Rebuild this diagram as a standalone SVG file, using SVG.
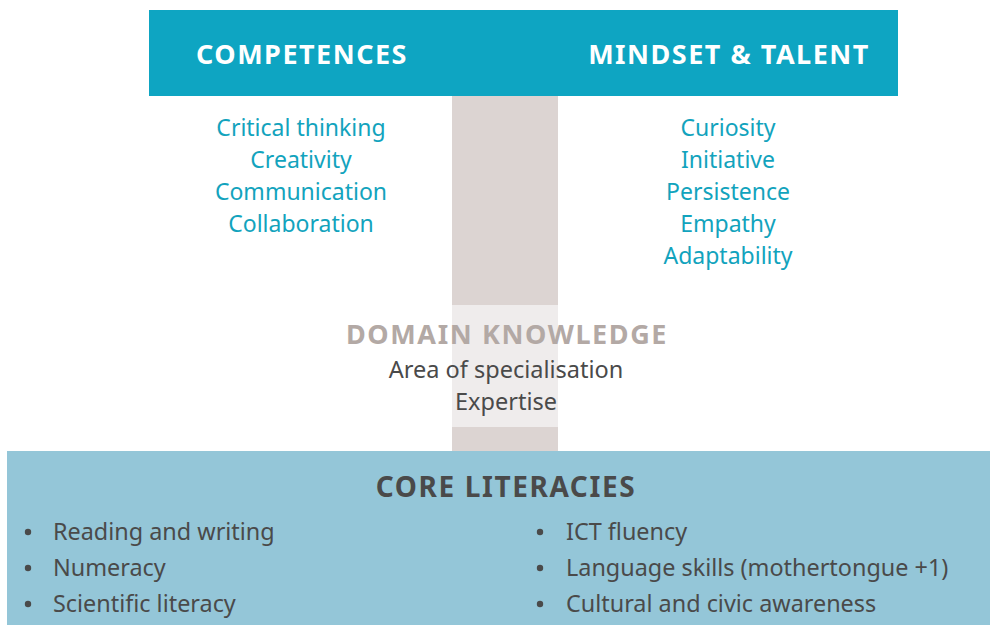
<svg xmlns="http://www.w3.org/2000/svg" width="990" height="625" viewBox="0 0 990 625">
<style>
text{font-family:"Noto Sans","Open Sans",sans-serif;}
.hd{font-size:27px;font-weight:bold;fill:#ffffff;text-anchor:middle;letter-spacing:1.5px;}
.tl{font-size:23px;fill:#12a3bd;text-anchor:middle;}
.dk{font-size:23.5px;fill:#4a4a4a;text-anchor:middle;}
.bl{font-size:23.4px;fill:#4a4a4a;}
.bt{fill:#4a4a4a;}
</style>
<rect width="990" height="625" fill="#ffffff"/>
<g id="pillar">
<rect x="452" y="96" width="106" height="355" fill="#dcd4d2"/>
<rect x="452" y="305" width="106" height="122" fill="#efecec"/>
</g>
<g id="top-bar">
<rect x="149" y="10" width="749" height="86" fill="#0ea5c2"/>
<text class="hd" x="302" y="64">COMPETENCES</text>
<text class="hd" x="729" y="64">MINDSET &amp; TALENT</text>
</g>
<g id="competences">
<text class="tl" x="301" y="136">Critical thinking</text>
<text class="tl" x="301" y="168">Creativity</text>
<text class="tl" x="301" y="200">Communication</text>
<text class="tl" x="301" y="232">Collaboration</text>
</g>
<g id="mindset">
<text class="tl" x="728" y="136">Curiosity</text>
<text class="tl" x="728" y="168">Initiative</text>
<text class="tl" x="728" y="200">Persistence</text>
<text class="tl" x="728" y="232">Empathy</text>
<text class="tl" x="728" y="264">Adaptability</text>
</g>
<g id="domain-knowledge">
<text x="507" y="344" style="font-size:27px;font-weight:bold;fill:#b3a9a5;text-anchor:middle;letter-spacing:1.6px;">DOMAIN KNOWLEDGE</text>
<text class="dk" x="506" y="378">Area of specialisation</text>
<text class="dk" x="506" y="410">Expertise</text>
</g>
<g id="core-literacies">
<rect x="7" y="451" width="983" height="174" fill="#94c6d8"/>
<text x="506" y="497" style="font-size:28px;font-weight:bold;fill:#4a4a4a;text-anchor:middle;letter-spacing:1.6px;">CORE LITERACIES</text>
<circle class="bt" cx="28" cy="532" r="3.2"/>
<circle class="bt" cx="28" cy="568" r="3.2"/>
<circle class="bt" cx="28" cy="604" r="3.2"/>
<text class="bl" x="53" y="540">Reading and writing</text>
<text class="bl" x="53" y="576">Numeracy</text>
<text class="bl" x="53" y="612">Scientific literacy</text>
<circle class="bt" cx="540" cy="532" r="3.2"/>
<circle class="bt" cx="540" cy="568" r="3.2"/>
<circle class="bt" cx="540" cy="604" r="3.2"/>
<text class="bl" x="566" y="540">ICT fluency</text>
<text class="bl" x="566" y="576">Language skills (mothertongue +1)</text>
<text class="bl" x="566" y="612">Cultural and civic awareness</text>
</g>
</svg>
